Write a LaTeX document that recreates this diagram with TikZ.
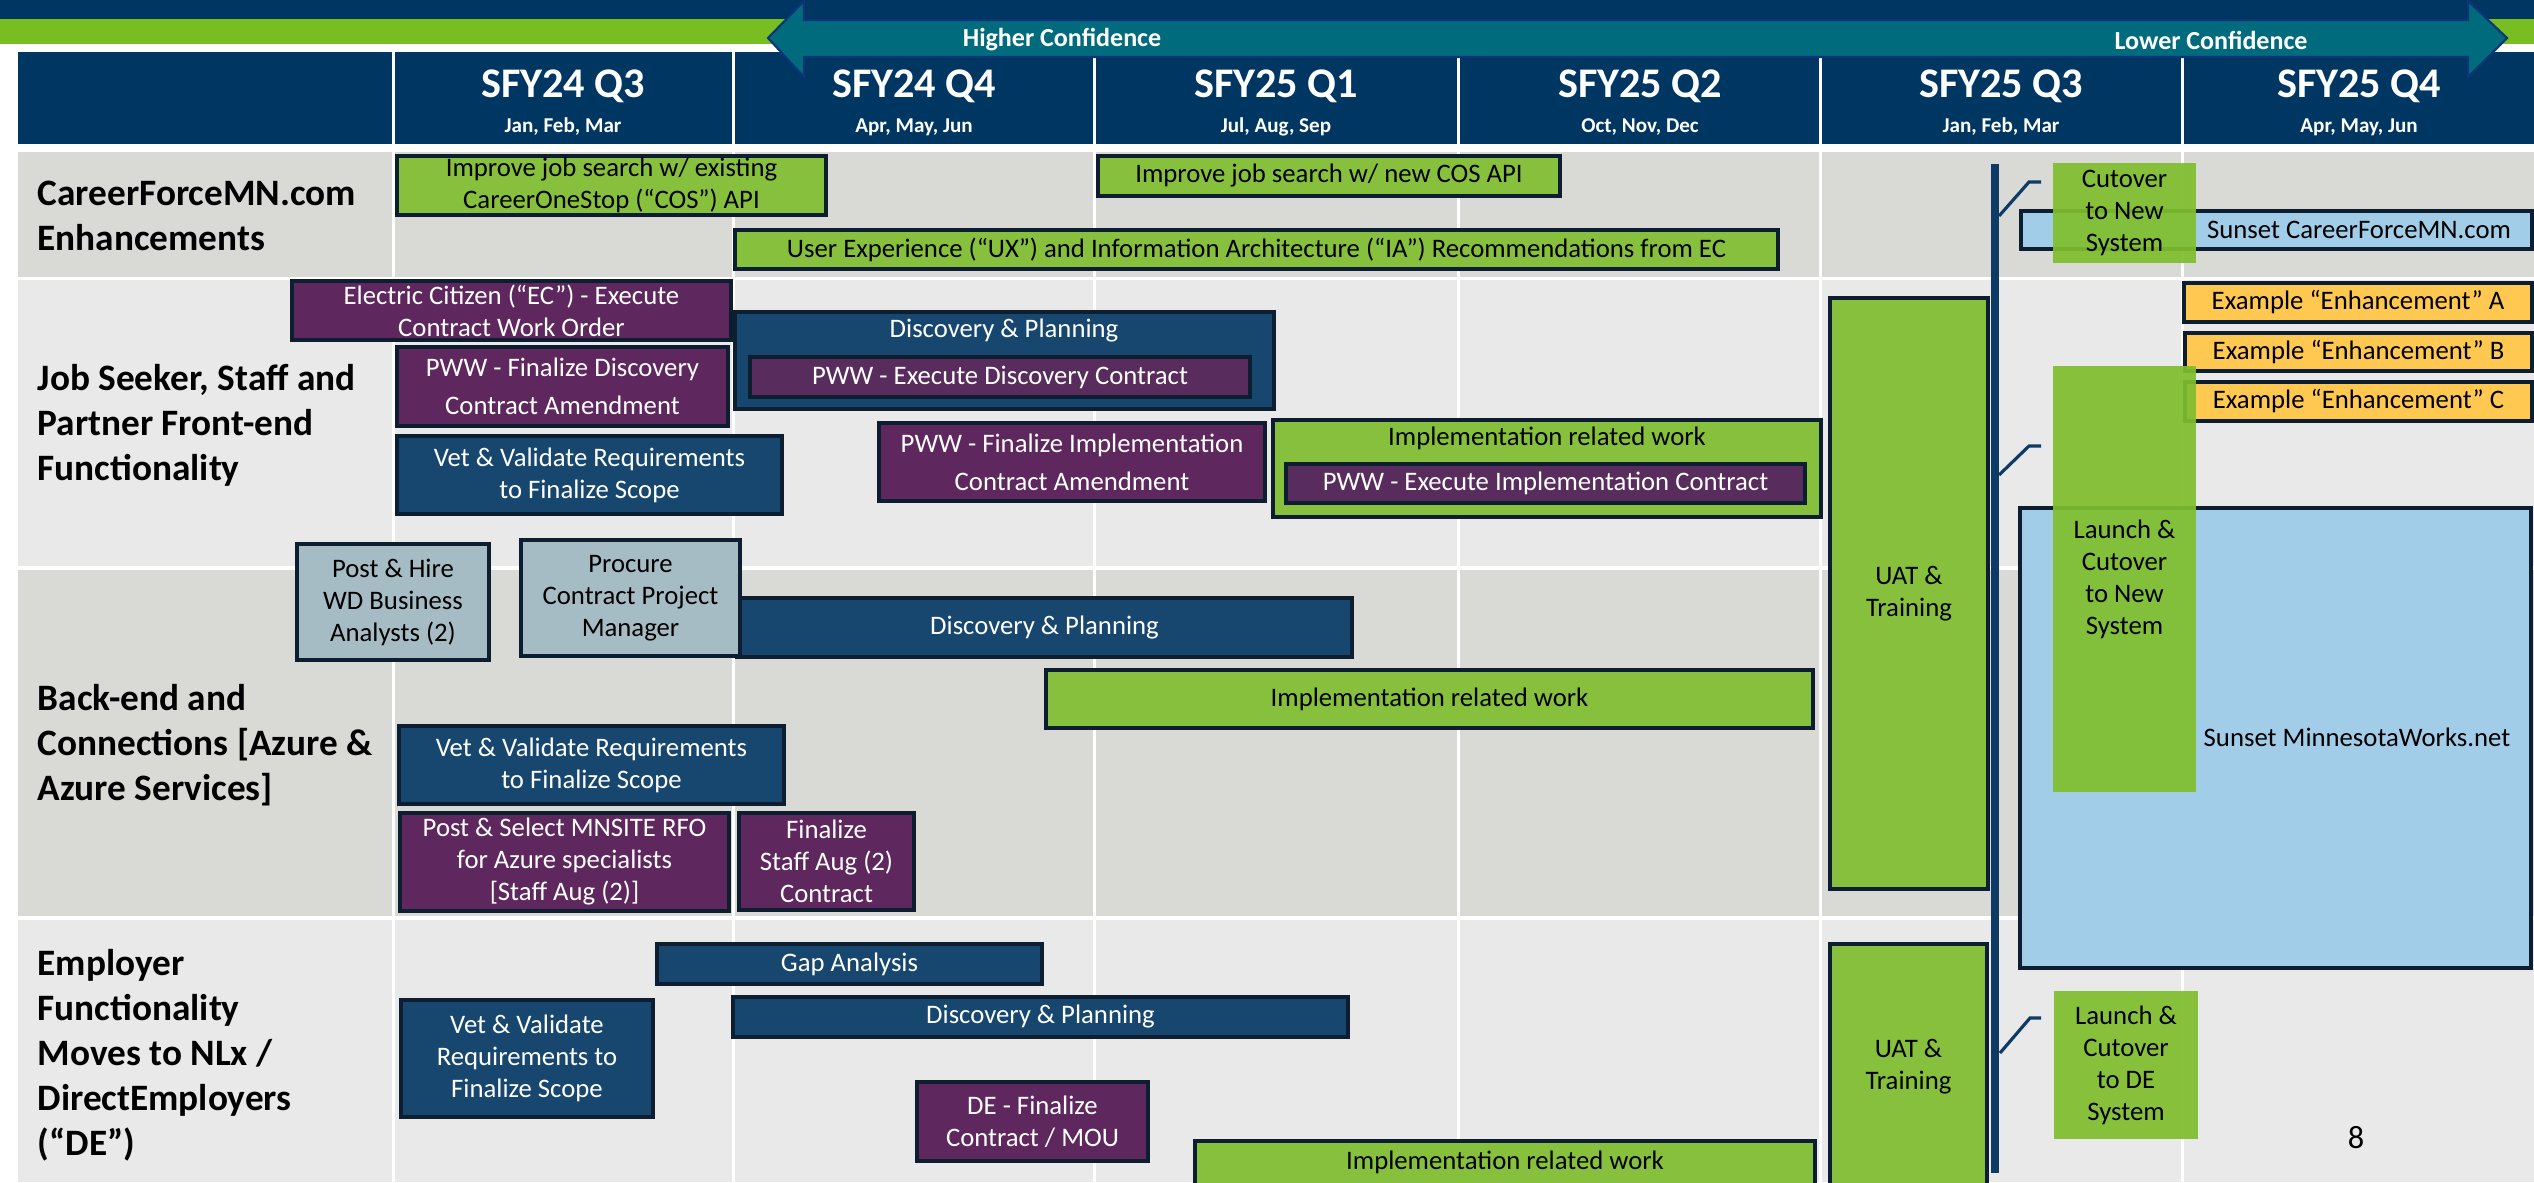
\documentclass[tikz,border=0pt]{standalone}
\usepackage{fontspec}
\setmainfont{Carlito}
\usetikzlibrary{fit}
\definecolor{navy}{RGB}{0,54,98}
\definecolor{bandgreen}{RGB}{120,190,32}
\definecolor{arrowteal}{RGB}{0,107,124}
\definecolor{arrowedge}{RGB}{16,52,120}
\definecolor{rowdark}{RGB}{217,217,213}
\definecolor{rowlight}{RGB}{233,233,233}
\definecolor{taskgreen}{RGB}{134,192,60}
\definecolor{taskpurple}{RGB}{94,39,94}
\definecolor{innerpurple}{RGB}{88,44,92}
\definecolor{taskblue}{RGB}{23,71,110}
\definecolor{taskgrey}{RGB}{166,188,196}
\definecolor{tasksky}{RGB}{162,205,232}
\definecolor{taskgold}{RGB}{255,200,80}
\definecolor{edge}{RGB}{12,30,48}
\definecolor{milestone}{RGB}{128,190,46}
\definecolor{linenavy}{RGB}{14,58,102}
\newcommand{\boxfont}{\fontsize{7.6}{9.1}\selectfont}
\newcommand{\labelfont}{\fontsize{10.6}{12.8}\selectfont\bfseries}

\begin{document}
\begin{tikzpicture}[x=0.01cm, y=-0.01cm,
  task/.style={draw=edge, line width=0.9pt, inner sep=0pt},
  greentask/.style={task, fill=taskgreen},
  purpletask/.style={task, fill=taskpurple},
  bluetask/.style={task, fill=taskblue},
  greytask/.style={task, fill=taskgrey},
  skytask/.style={task, fill=tasksky},
  goldtask/.style={task, fill=taskgold},
  cutover/.style={fill=milestone, fill opacity=0.93, inner sep=0pt},
  lighttext/.style={font=\boxfont, align=center, inner sep=0pt},
  darktext/.style={lighttext, text=white},
  rowlabel/.style={anchor=west, align=left, inner sep=0pt, font=\labelfont}]
\useasboundingbox (0,0) rectangle (2534,1182);
\clip (0,0) rectangle (2534,1182);
\fill[white] (0,0) rectangle (2534,1182);
\fill[navy] (0,0) rectangle (2534,19);
\fill[bandgreen] (0,19) rectangle (2534,44);
\foreach \xa/\xb in {18/392, 395/732, 735/1093, 1096/1457, 1460/1819, 1822/2181, 2184/2534}
  \fill[navy] (\xa,52) rectangle (\xb,144);
\foreach \cx/\qt/\mt [count=\i] in {563/SFY24 Q3/{Jan, Feb, Mar}, 914/SFY24 Q4/{Apr, May, Jun}, 1276/SFY25 Q1/{Jul, Aug, Sep}, 1640/SFY25 Q2/{Oct, Nov, Dec}, 2001/SFY25 Q3/{Jan, Feb, Mar}, 2359/SFY25 Q4/{Apr, May, Jun}} {
  \node[white, font=\fontsize{12}{14}\selectfont\bfseries] (q\i) at (\cx,86) {\qt};
  \node[white, font=\fontsize{6}{7}\selectfont\bfseries] (m\i) at (\cx,127) {\mt};
}
\draw[arrowedge, fill=arrowteal, line width=0.6pt] (768,38) -- (804,1) -- (804,20) -- (2468,20) -- (2468,1) -- (2507,38)
  -- (2468,77) -- (2468,57) -- (804,57) -- (804,77) -- cycle;
\node[white, font=\fontsize{7.4}{8}\selectfont\bfseries] (higher) at (1062,40) {Higher Confidence};
\node[white, font=\fontsize{7.4}{8}\selectfont\bfseries] (lower) at (2211,40) {Lower Confidence};
\fill[rowdark] (18,152) rectangle (2534,277);
\fill[rowlight] (18,280) rectangle (2534,566);
\fill[rowdark] (18,570) rectangle (2534,916);
\fill[rowlight] (18,920) rectangle (2534,1182);
\foreach \x in {393.5, 733.5, 1094.5, 1458.5, 1820.5, 2182.5}
  \draw[white, line width=0.85pt] (\x,152) -- (\x,1182);
\node[rowlabel] (cfmn) at (37,215.5) {CareerForceMN.com\\Enhancements};
\node[rowlabel] (front) at (37,425) {Job Seeker, Staff and\\Partner Front-end\\Functionality};
\node[rowlabel] (back) at (37,745) {Back-end and\\Connections [Azure \&\\Azure Services]};
\node[rowlabel] (employer) at (37,1055) {Employer\\Functionality\\Moves to NLx /\\DirectEmployers\\(“DE”)};
\node[greentask, fit={(397,156) (826,215)}] (cosold) {};
\node[lighttext] (cosoldtxt) at (cosold) {Improve job search w/ existing\\CareerOneStop (“COS”) API};
\node[greentask, fit={(1098,156) (1560,196)}] (cosnew) {};
\node[lighttext] (cosnewtxt) at (cosnew) {Improve job search w/ new COS API};
\node[greentask, fit={(735,230) (1778,269)}] (uxia) {};
\node[lighttext] (uxiatxt) at (uxia) {User Experience (“UX”) and Information Architecture (“IA”) Recommendations from EC};
\node[purpletask, fit={(292,281) (731,340)}] (ecwork) {};
\node[darktext] (ecworktxt) at (ecwork) {Electric Citizen (“EC”) - Execute\\Contract Work Order};
\node[purpletask, fit={(397,347) (728,426)}] (pwwdisc) {};
\node[darktext] (pwwdisctxt) at (pwwdisc) {PWW - Finalize Discovery\\[1.7pt]Contract Amendment};
\node[bluetask, fit={(397,436) (782,514)}] (vetfront) {};
\node[darktext] (vetfronttxt) at (vetfront) {Vet \& Validate Requirements\\to Finalize Scope};
\node[bluetask, fit={(735,312) (1274,409)}] (discfront) {};
\node[darktext] (discfronttxt) at (1004,331) {Discovery \& Planning};
\node[purpletask, fill=innerpurple, fit={(750,357) (1250,397)}] (pwwexec) {};
\node[darktext] (pwwexectxt) at (pwwexec) {PWW - Execute Discovery Contract};
\node[purpletask, fit={(879,423) (1265,501)}] (pwwimpl) {};
\node[darktext] (pwwimpltxt) at (pwwimpl) {PWW - Finalize Implementation\\[1.7pt]Contract Amendment};
\node[greentask, fit={(1273,420) (1821,517)}] (implfront) {};
\node[lighttext] (implfronttxt) at (1547,438) {Implementation related work};
\node[purpletask, fill=innerpurple, fit={(1286,464) (1805,503)}] (pwwexecimpl) {};
\node[darktext] (pwwexecimpltxt) at (pwwexecimpl) {PWW - Execute Implementation Contract};
\node[greentask, fit={(1830,298) (1988,889)}] (uatback) {};
\node[lighttext] (uatbacktxt) at (uatback) {UAT \&\\Training};
\node[greytask, fit={(297,544) (489,660)}] (hireba) {};
\node[lighttext] (hirebatxt) at (hireba) {Post \& Hire\\WD Business\\Analysts (2)};
\node[bluetask, fit={(737,598) (1352,657)}] (discback) {};
\node[darktext] (discbacktxt) at (discback) {Discovery \& Planning};
\node[greytask, fit={(521,540) (740,656)}] (procpm) {};
\node[lighttext] (procpmtxt) at (procpm) {Procure\\Contract Project\\Manager};
\node[greentask, fit={(1046,670) (1813,728)}] (implback) {};
\node[lighttext] (implbacktxt) at (implback) {Implementation related work};
\node[bluetask, fit={(399,726) (784,804)}] (vetback) {};
\node[darktext] (vetbacktxt) at (vetback) {Vet \& Validate Requirements\\to Finalize Scope};
\node[purpletask, fit={(400,813) (729,911)}] (rfo) {};
\node[darktext] (rfotxt) at (rfo) {Post \& Select MNSITE RFO\\for Azure specialists\\{[Staff Aug (2)]}};
\node[purpletask, fit={(739,813) (914,910)}] (staffaug) {};
\node[darktext] (staffaugtxt) at (staffaug) {Finalize\\Staff Aug (2)\\Contract};
\node[bluetask, fit={(657,944) (1042,984)}] (gap) {};
\node[darktext] (gaptxt) at (gap) {Gap Analysis};
\node[bluetask, fit={(733,997) (1348,1037)}] (discemp) {};
\node[darktext] (discemptxt) at (discemp) {Discovery \& Planning};
\node[bluetask, fit={(401,1000) (653,1117)}] (vetemp) {};
\node[darktext] (vetemptxt) at (vetemp) {Vet \& Validate\\Requirements to\\Finalize Scope};
\node[purpletask, fit={(917,1082) (1148,1161)}] (demou) {};
\node[darktext] (demoutxt) at (demou) {DE - Finalize\\Contract / MOU};
\node[greentask, fit={(1195,1141) (1815,1186)}] (implemp) {};
\node[lighttext] (implemptxt) at (1505,1162) {Implementation related work};
\node[greentask, fit={(1830,944) (1987,1190)}] (uatemp) {};
\node[lighttext] (uatemptxt) at (uatemp) {UAT \&\\Training};
\node[skytask, fit={(2021,211) (2532,249)}] (sunsetcf) {};
\node[lighttext] (sunsetcftxt) at (2359,230) {Sunset CareerForceMN.com};
\node[goldtask, fit={(2184,283) (2532,322)}] (enha) {};
\node[lighttext] (enhatxt) at (enha) {Example “Enhancement” A};
\node[goldtask, fit={(2185,333) (2532,371)}] (enhb) {};
\node[lighttext] (enhbtxt) at (enhb) {Example “Enhancement” B};
\node[goldtask, fit={(2185,382) (2532,421)}] (enhc) {};
\node[lighttext] (enhctxt) at (enhc) {Example “Enhancement” C};
\node[skytask, fit={(2020,508) (2531,968)}] (sunsetmw) {};
\node[lighttext] (sunsetmwtxt) at (2357,737) {Sunset MinnesotaWorks.net};
\node[cutover, fit={(2053,163) (2196,263)}] (cutnew) {};
\node[lighttext] (cutnewtxt) at (cutnew) {Cutover\\to New\\System};
\node[cutover, fit={(2053,366) (2196,792)}] (launchnew) {};
\node[lighttext] (launchnewtxt) at (launchnew) {Launch \&\\Cutover\\to New\\System};
\node[cutover, fit={(2054,991) (2198,1139)}] (launchde) {};
\node[lighttext] (launchdetxt) at (launchde) {Launch \&\\Cutover\\to DE\\System};
\coordinate (railtop) at (1995,164);
\coordinate (railbot) at (1995,1173);
\draw[linenavy, line width=2.3pt] (railtop) -- (railbot);
\coordinate (tickA) at (1999,216);
\coordinate (tickAend) at (2041,182);
\coordinate (tickB) at (1999,475);
\coordinate (tickBend) at (2041,446);
\coordinate (tickC) at (2000,1053);
\coordinate (tickCend) at (2041,1018);
\draw[linenavy, line width=0.9pt] (tickA) -- ++(30,-34) -- (tickAend);
\draw[linenavy, line width=0.9pt] (tickB) -- ++(30,-29) -- (tickBend);
\draw[linenavy, line width=0.9pt] (tickC) -- ++(30,-35) -- (tickCend);
\node[font=\fontsize{9.2}{11}\selectfont] (pagenum) at (2356,1138) {8};
\end{tikzpicture}
\end{document}
